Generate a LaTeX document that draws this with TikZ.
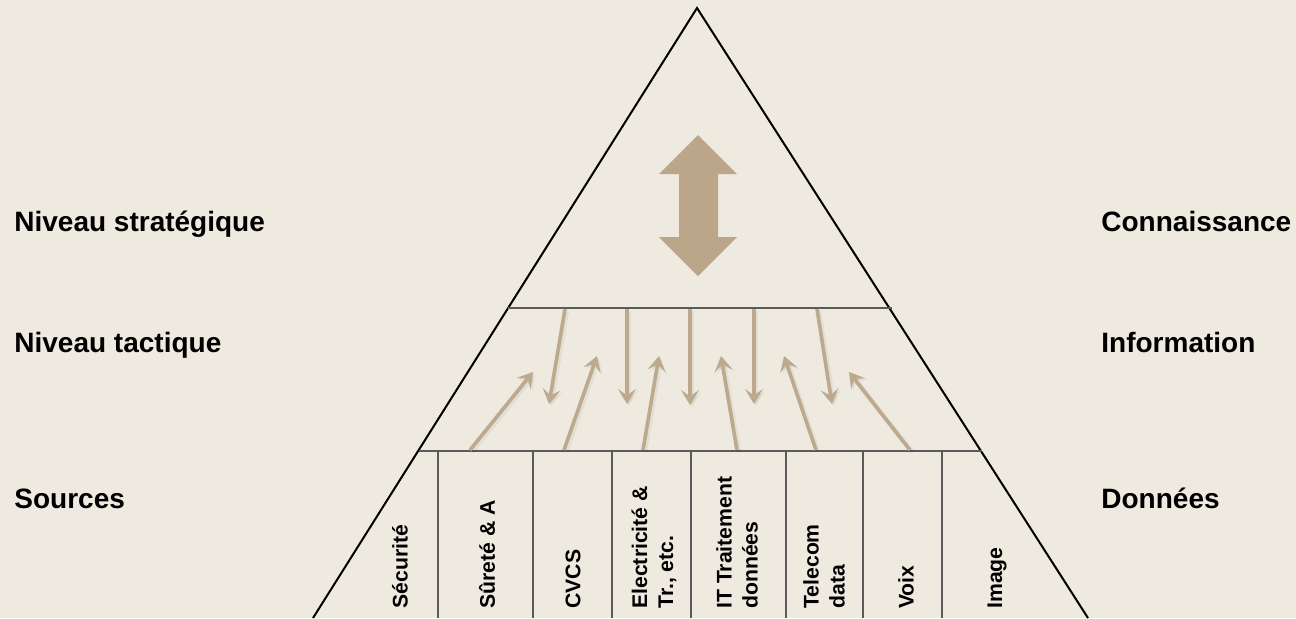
\documentclass[tikz,border=0pt]{standalone}
\usepackage{fontspec}
\setmainfont{Liberation Sans}
\usetikzlibrary{arrows.meta}
\definecolor{bg}{HTML}{EEEAE0}
\definecolor{tan}{HTML}{BBA68A}
\definecolor{tanlight}{HTML}{BCA98E}
\definecolor{rulegray}{HTML}{5A5A5A}
\tikzset{
  level/.style={anchor=base west,inner sep=0pt,font=\fontsize{14}{16}\selectfont\bfseries},
  col/.style={rotate=90,anchor=west,inner sep=0pt,align=left,
    font=\fontsize{10.6}{13}\selectfont\bfseries},
  edge/.style={line width=1pt,black,line join=miter},
  divider/.style={line width=1pt,rulegray},
  flowtip/.style={-{Stealth[length=7.5pt,width=9pt,inset=3.2pt]}},
  flow/.style={line width=1.8pt,tanlight,flowtip},
  flowshadow/.style={line width=2.4pt,black,opacity=0.05,flowtip,
    transform canvas={shift={(0.9pt,-0.9pt)}}},
}
\begin{document}
\begin{tikzpicture}[x=0.5pt,y=-0.5pt]
\fill[bg] (0,0) rectangle (1296,618);
\useasboundingbox (0,0) rectangle (1296,618);

% pyramid outline
\draw[edge] (313,618) -- (697,8) -- (1088,618);
\draw[divider] (508,308) -- (892,308);
\draw[divider] (419,451) -- (982,451);
\foreach \x in {438,533,612,691,786,863,942}
  \draw[divider] (\x,451) -- (\x,618);

% strategic two-way arrow
\fill[tan] (698,135) -- (737,174) -- (718,174) -- (718,237) -- (737,237)
  -- (698,276) -- (659,237) -- (679,237) -- (679,174) -- (659,174) -- cycle;

% level names
\node[level] (ls) at (14,231) {Niveau stratégique};
\node[level] (lt) at (14,352) {Niveau tactique};
\node[level] (lsrc) at (14,508) {Sources};
\node[level] (rc) at (1101,231) {Connaissance};
\node[level] (ri) at (1101,352) {Information};
\node[level] (rd) at (1101,508) {Données};

% source columns
\node[col] (c1) at (400,609) {Sécurité};
\node[col] (c2) at (487,609) {Sûreté \& A};
\node[col] (c3) at (573,609) {CVCS};
\node[col] (c4) at (654,609) {Electricité \&\\Tr., etc.};
\node[col] (c5) at (737,609) {IT Traitement\\données};
\node[col] (c6) at (824,609) {Telecom\\data};
\node[col] (c7) at (906,609) {Voix};
\node[col] (c8) at (997,609) {Image};

% downward flows
\coordinate (d1a) at (565,309); \coordinate (d1b) at (549,404);
\coordinate (d2a) at (627,309); \coordinate (d2b) at (627,404);
\coordinate (d3a) at (690,309); \coordinate (d3b) at (690,405);
\coordinate (d4a) at (754,309); \coordinate (d4b) at (754,404);
\coordinate (d5a) at (817,309); \coordinate (d5b) at (832,404);

% upward flows
\coordinate (u1a) at (470,450); \coordinate (u1b) at (533,372);
\coordinate (u2a) at (564,450); \coordinate (u2b) at (597,356);
\coordinate (u3a) at (643,450); \coordinate (u3b) at (659,356);
\coordinate (u4a) at (737,450); \coordinate (u4b) at (721,356);
\coordinate (u5a) at (816,450); \coordinate (u5b) at (784,356);
\coordinate (u6a) at (910,450); \coordinate (u6b) at (849,372);

\foreach \i in {1,...,5} \draw[flowshadow] (d\i a) -- (d\i b);
\foreach \i in {1,...,6} \draw[flowshadow] (u\i a) -- (u\i b);
\foreach \i in {1,...,5} \draw[flow] (d\i a) -- (d\i b);
\foreach \i in {1,...,6} \draw[flow] (u\i a) -- (u\i b);
\end{tikzpicture}
\end{document}
